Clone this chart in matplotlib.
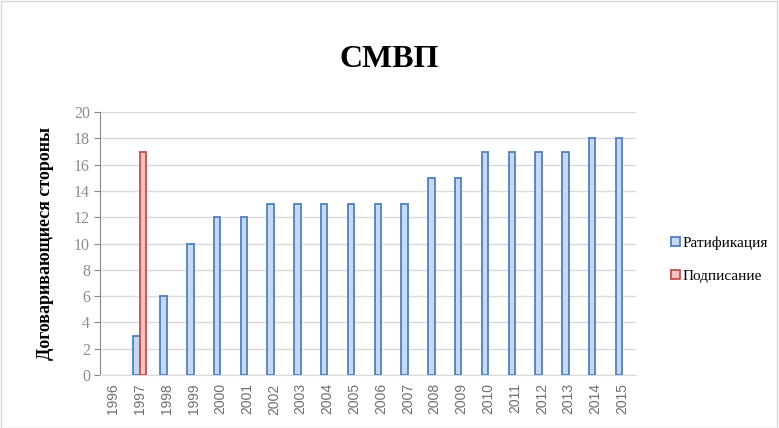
import matplotlib
matplotlib.use("Agg")
import matplotlib.pyplot as plt
import numpy as np
from matplotlib.patches import Rectangle

years = [str(y) for y in range(1996, 2016)]
ratification = [0, 3, 6, 10, 12, 12, 13, 13, 13, 13, 13, 13, 15, 15, 17, 17, 17, 17, 18, 18]
signing = [0, 17, 0, 0, 0, 0, 0, 0, 0, 0, 0, 0, 0, 0, 0, 0, 0, 0, 0, 0]

fig = plt.figure(figsize=(7.79, 4.28), dpi=100)
fig.patches.append(Rectangle((0.001, 0.001), 0.997, 0.997, transform=fig.transFigure,
                             fill=False, edgecolor="#d9d9d9", linewidth=1))
ax = fig.add_axes([0.128, 0.124, 0.688, 0.614])

x = np.arange(len(years))
w = 0.24
rat = np.array(ratification, dtype=float)
sig = np.array(signing, dtype=float)
mr = rat > 0
ms = sig > 0
ax.bar(x[mr] - w / 2, rat[mr], width=w, color="#c6d9f1", edgecolor="#4f81bd", linewidth=1.3,
       label="Ратификация", zorder=3)
ax.bar(x[ms] + w / 2, sig[ms], width=w, color="#f4c2c2", edgecolor="#c0504d", linewidth=1.3,
       label="Подписание", zorder=3)

ax.set_xlim(-0.5, len(years) - 0.5)
ax.set_ylim(0, 20)
ax.set_yticks(range(0, 21, 2))
ax.set_xticks(x)
ax.set_xticklabels(years, rotation=90, fontsize=10, color="#6e6e6e", family="Liberation Sans")
for lab in ax.get_yticklabels():
    lab.set_family("Liberation Serif")
    lab.set_fontsize(11.5)
    lab.set_color("#8c8c8c")
ax.tick_params(axis="x", length=0, pad=6)
ax.tick_params(axis="y", length=4, color="#868686", pad=3)
ax.grid(axis="y", color="#d9d9d9", linewidth=1, zorder=0)
for s in ["top", "right"]:
    ax.spines[s].set_visible(False)
ax.spines["left"].set_color("#868686")
ax.spines["bottom"].set_color("#d9d9d9")

fig.text(0.058, 0.43, "Договаривающиеся стороны", rotation=90, ha="center", va="center",
         family="Liberation Serif", fontweight="bold", fontsize=13)
fig.text(0.5, 0.862, "СМВП", ha="center", va="center", family="Liberation Serif",
         fontweight="bold", fontsize=23)

leg = fig.legend(loc="upper left", bbox_to_anchor=(0.862, 0.448), frameon=False,
                 prop={"family": "Liberation Serif", "size": 11}, handlelength=0.55,
                 handleheight=0.55, handletextpad=0.2, labelspacing=1.3, borderaxespad=0,
                 borderpad=0)

fig.savefig("out.png", dpi=100)
